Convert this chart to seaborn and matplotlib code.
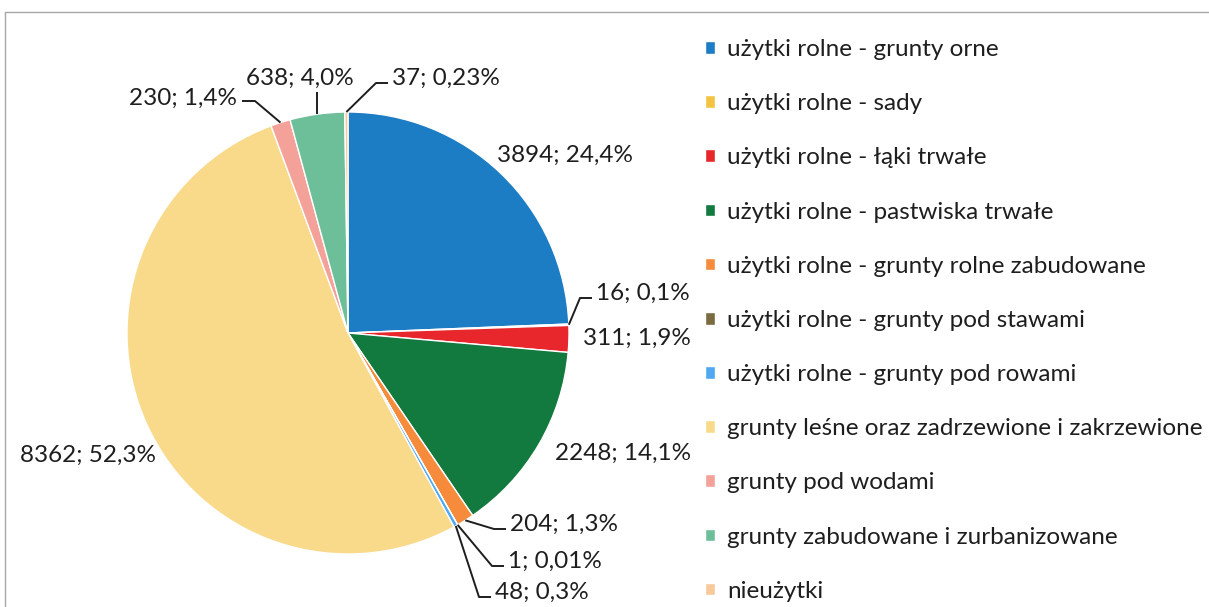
import matplotlib
matplotlib.use('Agg')
import matplotlib.pyplot as plt
from matplotlib.lines import Line2D
import numpy as np
import seaborn as sns

categories = [
    'użytki rolne - grunty orne',
    'użytki rolne - sady',
    'użytki rolne - łąki trwałe',
    'użytki rolne - pastwiska trwałe',
    'użytki rolne - grunty rolne zabudowane',
    'użytki rolne - grunty pod stawami',
    'użytki rolne - grunty pod rowami',
    'grunty leśne oraz zadrzewione i zakrzewione',
    'grunty pod wodami',
    'grunty zabudowane i zurbanizowane',
    'nieużytki',
]
values = [3894, 16, 311, 2248, 204, 1, 48, 8362, 230, 638, 37]
pct_labels = ['24,4%', '0,1%', '1,9%', '14,1%', '1,3%', '0,01%', '0,3%',
              '52,3%', '1,4%', '4,0%', '0,23%']
colors = ['#1C7CC4', '#F5C342', '#E8272D', '#12793F', '#F58B3B', '#7B6B40',
          '#50A9F0', '#F8DA8A', '#F4A199', '#6DBF99', '#F8C99B']

W, H = 1209, 607
CX, CY, R = 348, 333, 221   # pie centre/radius in pixels (y from top)

# label placement (pixels, y from top): x, y, ha, leader style
label_pos = {
    0: (497, 155, 'left', None),
    1: (596, 293, 'left', 'elbow'),
    2: (583, 338, 'left', None),
    3: (555, 453, 'left', None),
    4: (510, 524, 'left', 'elbow'),
    5: (508, 561, 'left', 'elbow'),
    6: (495, 592, 'left', 'elbow'),
    7: (20, 455, 'left', None),
    8: (237, 98, 'right', 'elbow'),
    9: (246, 78, 'left', 'vertical'),
    10: (392, 78, 'left', 'elbow'),
}

sns.set_theme(style='white')
plt.rcParams['font.family'] = ['Lato', 'DejaVu Sans']
FS = 17.5

fig = plt.figure(figsize=(W / 100, H / 100), dpi=100)
ax = fig.add_axes([0, 0, 1, 1])
wedges, _ = ax.pie(values, colors=colors, startangle=90, counterclock=False,
                   center=(CX, H - CY), radius=R,
                   wedgeprops=dict(edgecolor='white', linewidth=1))
ax.set_xlim(0, W)
ax.set_ylim(0, H)
ax.set_aspect('equal')
ax.axis('off')

for i, w in enumerate(wedges):
    tx, ty, ha, leader = label_pos[i]
    text = f'{values[i]}; {pct_labels[i]}'
    ax.text(tx, H - ty, text, ha=ha, va='center', fontsize=FS, color='#1e1e1e')
    if leader is None:
        continue
    mid = np.deg2rad((w.theta1 + w.theta2) / 2)
    px, py = CX + R * np.cos(mid), (H - CY) + R * np.sin(mid)
    if leader == 'vertical':
        xs, ys = [px, px], [py, H - ty - 14]
    elif ha == 'left':
        ly = H - ty - 5
        xs, ys = [px, tx - 16, tx - 4], [py, ly, ly]
    else:
        ly = H - ty - 3
        xs, ys = [px, tx + 18, tx + 5], [py, ly, ly]
    ax.plot(xs, ys, color='#1e1e1e', lw=1.4, solid_capstyle='butt')

ax.legend(wedges, categories, loc='upper left',
          bbox_to_anchor=(705 / W, 1 - 39 / H), frameon=False,
          fontsize=FS, handlelength=0.42, handleheight=0.42,
          handletextpad=0.5, labelspacing=1.365, borderpad=0, borderaxespad=0,
          labelcolor='#1e1e1e')

# chart area border (top and left visible)
fig.add_artist(Line2D([5 / W, 1], [1 - 12 / H, 1 - 12 / H], color='#a8a8a8', lw=1))
fig.add_artist(Line2D([5 / W, 5 / W], [0, 1 - 12 / H], color='#a8a8a8', lw=1))

fig.savefig('out.png', dpi=100, facecolor='white')
